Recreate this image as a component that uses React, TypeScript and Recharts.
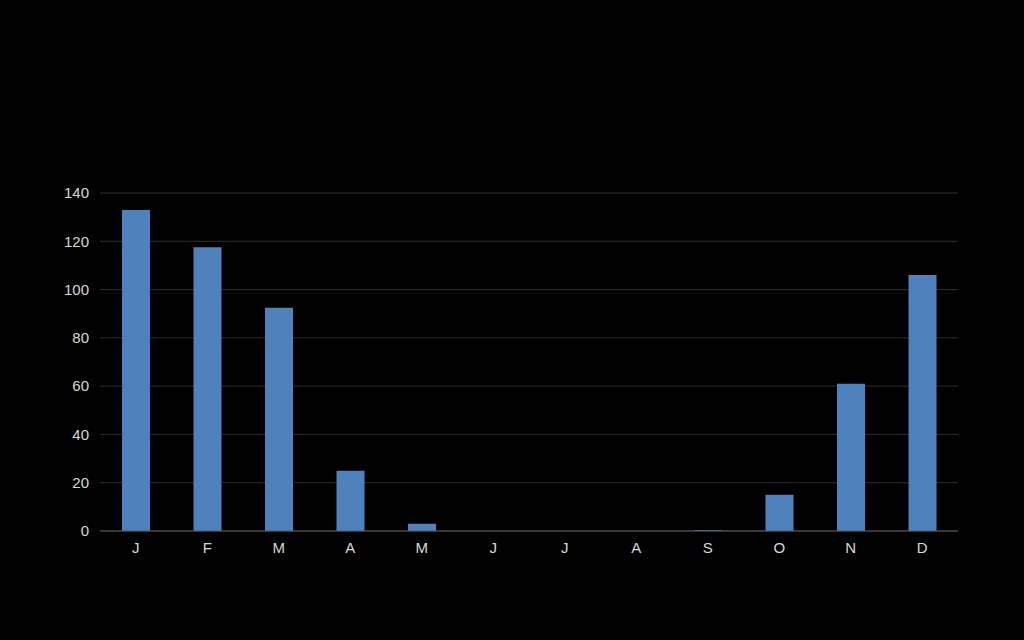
import React from "react";
import { BarChart, Bar, XAxis, YAxis, CartesianGrid } from "recharts";

const months = ["J", "F", "M", "A", "M", "J", "J", "A", "S", "O", "N", "D"];
const values = [133, 117.5, 92.5, 25, 3, 0, 0, 0, 0.3, 15, 61, 106];
const yTicks = [0, 20, 40, 60, 80, 100, 120, 140];

const data = months.map((m, i) => ({ key: i, month: m, value: values[i] }));

export default function App() {
  return (
    <div style={{ position: "fixed", left: 0, top: 0, width: 1024, height: 640, background: "#000" }}>
      <BarChart
        width={1024}
        height={640}
        data={data}
        margin={{ top: 193, right: 66, left: 0, bottom: 79 }}
        barCategoryGap="30%"
      >
        <CartesianGrid vertical={false} stroke="#2e2e2e" strokeWidth={1} />
        <XAxis
          dataKey="key"
          tickFormatter={(i: number) => months[i]}
          height={30}
          stroke="#5a5a5a"
          tickLine={false}
          tickSize={0}
          tickMargin={11}
          tick={{ fill: "#d9d9d9", fontSize: 15, fontFamily: "Liberation Sans, Arial, sans-serif" }}
        />
        <YAxis
          width={100}
          domain={[0, 140]}
          ticks={yTicks}
          axisLine={false}
          tickLine={false}
          tickSize={0}
          tickMargin={11}
          tick={{ fill: "#d9d9d9", fontSize: 15, fontFamily: "Liberation Sans, Arial, sans-serif" }}
        />
        <Bar dataKey="value" fill="#4f81bd" barSize={28} isAnimationActive={false} />
      </BarChart>
    </div>
  );
}
